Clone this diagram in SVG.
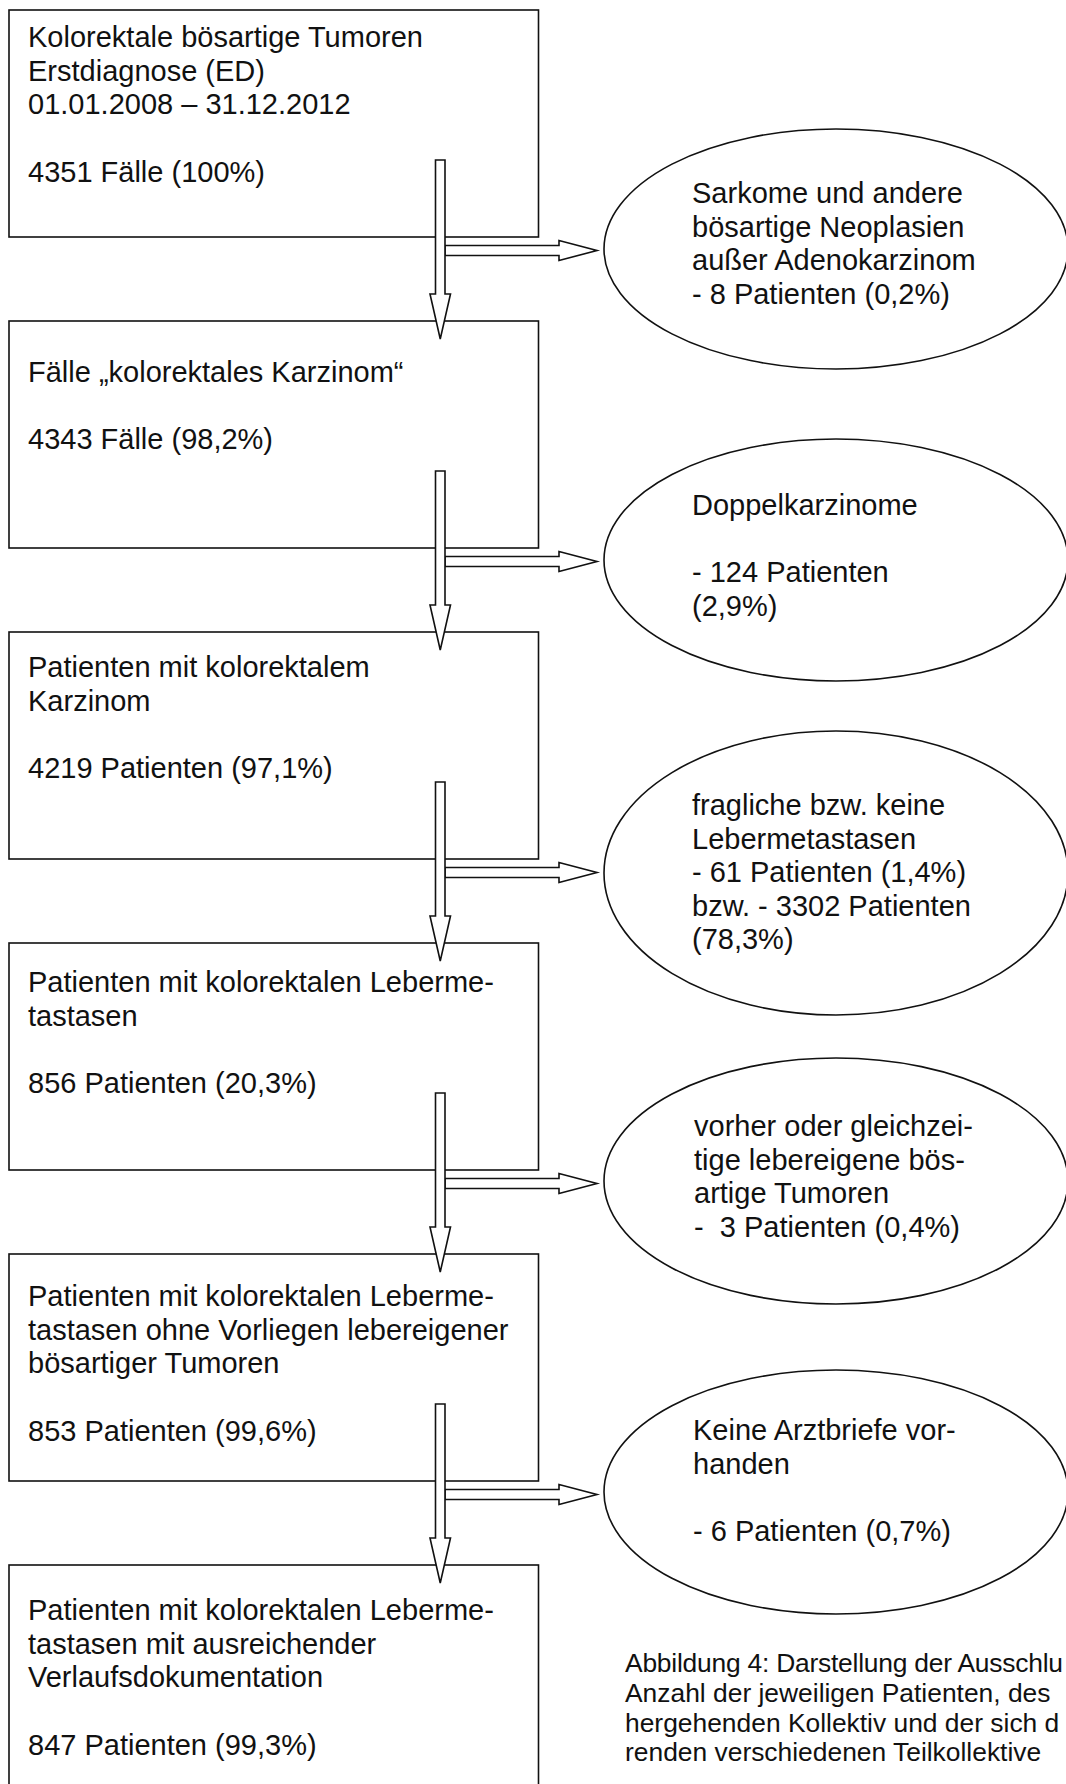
<svg xmlns="http://www.w3.org/2000/svg" width="1066" height="1784" viewBox="0 0 1066 1784">
<style>
.box{fill:#fff;stroke:#111;stroke-width:1.6}
.ell{fill:#fff;stroke:#111;stroke-width:1.6}
.arr{fill:#fff;stroke:#111;stroke-width:1.6;stroke-linejoin:miter}
.t{font-family:"Liberation Sans",Arial,sans-serif;font-size:29px;fill:#111}
.cap{font-family:"Liberation Sans",Arial,sans-serif;font-size:26.4px;fill:#111}
</style>
<rect width="1066" height="1784" fill="#fff"/>

<g id="box1">
<rect class="box" x="9" y="10" width="529.5" height="227"/>
<text class="t"><tspan x="28" y="47">Kolorektale bösartige Tumoren</tspan><tspan x="28" y="80.5">Erstdiagnose (ED)</tspan><tspan x="28" y="114">01.01.2008 – 31.12.2012</tspan><tspan x="28" y="181.5">4351 Fälle (100%)</tspan></text>
</g>
<g id="box2">
<rect class="box" x="9" y="321" width="529.5" height="227"/>
<text class="t"><tspan x="28" y="382">Fälle „kolorektales Karzinom“</tspan><tspan x="28" y="449">4343 Fälle (98,2%)</tspan></text>
</g>
<g id="box3">
<rect class="box" x="9" y="632" width="529.5" height="227"/>
<text class="t"><tspan x="28" y="677">Patienten mit kolorektalem</tspan><tspan x="28" y="710.5">Karzinom</tspan><tspan x="28" y="777.5">4219 Patienten (97,1%)</tspan></text>
</g>
<g id="box4">
<rect class="box" x="9" y="943" width="529.5" height="227"/>
<text class="t"><tspan x="28" y="992">Patienten mit kolorektalen Leberme-</tspan><tspan x="28" y="1025.5">tastasen</tspan><tspan x="28" y="1092.5">856 Patienten (20,3%)</tspan></text>
</g>
<g id="box5">
<rect class="box" x="9" y="1254" width="529.5" height="227"/>
<text class="t"><tspan x="28" y="1306">Patienten mit kolorektalen Leberme-</tspan><tspan x="28" y="1339.5">tastasen ohne Vorliegen lebereigener</tspan><tspan x="28" y="1373">bösartiger Tumoren</tspan><tspan x="28" y="1440.5">853 Patienten (99,6%)</tspan></text>
</g>
<g id="box6">
<rect class="box" x="9" y="1565" width="529.5" height="240"/>
<text class="t"><tspan x="28" y="1620">Patienten mit kolorektalen Leberme-</tspan><tspan x="28" y="1653.5">tastasen mit ausreichender</tspan><tspan x="28" y="1687">Verlaufsdokumentation</tspan><tspan x="28" y="1754.5">847 Patienten (99,3%)</tspan></text>
</g>

<g id="excl1">
<ellipse class="ell" cx="836" cy="249" rx="232" ry="120"/>
<text class="t"><tspan x="692" y="203">Sarkome und andere</tspan><tspan x="692" y="236.5">bösartige Neoplasien</tspan><tspan x="692" y="270">außer Adenokarzinom</tspan><tspan x="692" y="303.5">- 8 Patienten (0,2%)</tspan></text>
</g>
<g id="excl2">
<ellipse class="ell" cx="836" cy="560" rx="232" ry="121"/>
<text class="t"><tspan x="692" y="515">Doppelkarzinome</tspan><tspan x="692" y="582">- 124 Patienten</tspan><tspan x="692" y="615.5">(2,9%)</tspan></text>
</g>
<g id="excl3">
<ellipse class="ell" cx="836" cy="873" rx="232" ry="142"/>
<text class="t"><tspan x="692" y="815">fragliche bzw. keine</tspan><tspan x="692" y="848.5">Lebermetastasen</tspan><tspan x="692" y="882">- 61 Patienten (1,4%)</tspan><tspan x="692" y="915.5">bzw. - 3302 Patienten</tspan><tspan x="692" y="949">(78,3%)</tspan></text>
</g>
<g id="excl4">
<ellipse class="ell" cx="836" cy="1181" rx="232" ry="123"/>
<text class="t" xml:space="preserve"><tspan x="694" y="1136">vorher oder gleichzei-</tspan><tspan x="694" y="1169.5">tige lebereigene bös-</tspan><tspan x="694" y="1203">artige Tumoren</tspan><tspan x="694" y="1236.5">-  3 Patienten (0,4%)</tspan></text>
</g>
<g id="excl5">
<ellipse class="ell" cx="836" cy="1492" rx="232" ry="122"/>
<text class="t"><tspan x="693" y="1440">Keine Arztbriefe vor-</tspan><tspan x="693" y="1473.5">handen</tspan><tspan x="693" y="1540.5">- 6 Patienten (0,7%)</tspan></text>
</g>

<g id="connectors">
<polygon class="arr" points="445,245.5 559,245.5 559,240.5 597,250.5 559,260.5 559,255.5 445,255.5"/>
<polygon class="arr" points="435.5,160 445,160 445,294 450.5,294 440.25,339 430,294 435.5,294"/>
<polygon class="arr" points="445,556.5 559,556.5 559,551.5 597,561.5 559,571.5 559,566.5 445,566.5"/>
<polygon class="arr" points="435.5,471 445,471 445,605 450.5,605 440.25,650 430,605 435.5,605"/>
<polygon class="arr" points="445,867.5 559,867.5 559,862.5 597,872.5 559,882.5 559,877.5 445,877.5"/>
<polygon class="arr" points="435.5,782 445,782 445,916 450.5,916 440.25,961 430,916 435.5,916"/>
<polygon class="arr" points="445,1178.5 559,1178.5 559,1173.5 597,1183.5 559,1193.5 559,1188.5 445,1188.5"/>
<polygon class="arr" points="435.5,1093 445,1093 445,1227 450.5,1227 440.25,1272 430,1227 435.5,1227"/>
<polygon class="arr" points="445,1489.5 559,1489.5 559,1484.5 597,1494.5 559,1504.5 559,1499.5 445,1499.5"/>
<polygon class="arr" points="435.5,1404 445,1404 445,1538 450.5,1538 440.25,1583 430,1538 435.5,1538"/>
</g>

<g id="caption">
<text class="cap"><tspan x="625" y="1672" textLength="438" lengthAdjust="spacing">Abbildung 4: Darstellung der Ausschlu</tspan><tspan x="625" y="1701.8">Anzahl der jeweiligen Patienten, des</tspan><tspan x="625" y="1731.6">hergehenden Kollektiv und der sich d</tspan><tspan x="625" y="1761.4">renden verschiedenen Teilkollektive</tspan></text>
</g>
</svg>
